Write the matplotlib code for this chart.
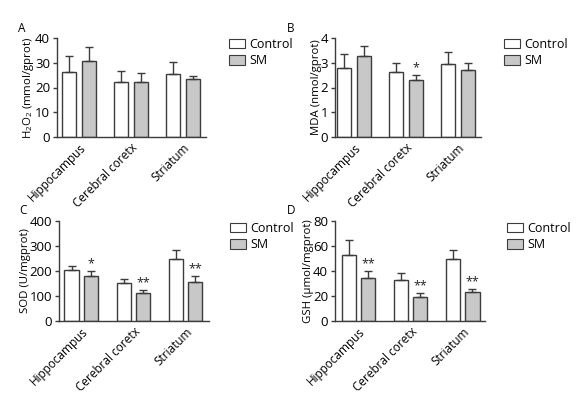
import matplotlib
matplotlib.use('Agg')
import matplotlib.pyplot as plt
from matplotlib.patches import Patch
import numpy as np

plt.rcParams['font.family'] = ['Open Sans', 'DejaVu Sans']
plt.rcParams['mathtext.default'] = 'regular'

regions = ['Hippocampus', 'Cerebral coretx', 'Striatum']
groups = ['Control', 'SM']

# panel A: H2O2
h2o2_ctrl = [26.3, 22.4, 25.5]
h2o2_ctrl_err = [6.3, 4.4, 5.0]
h2o2_sm = [30.8, 22.4, 23.5]
h2o2_sm_err = [5.7, 3.3, 1.3]
h2o2_stars = ['', '', '']

# panel B: MDA
mda_ctrl = [2.79, 2.64, 2.93]
mda_ctrl_err = [0.58, 0.33, 0.51]
mda_sm = [3.26, 2.30, 2.71]
mda_sm_err = [0.43, 0.21, 0.26]
mda_stars = ['', '*', '']

# panel C: SOD
sod_ctrl = [203, 154, 249]
sod_ctrl_err = [18, 16, 35]
sod_sm = [179, 114, 158]
sod_sm_err = [23, 12, 21]
sod_stars = ['*', '**', '**']

# panel D: GSH
gsh_ctrl = [53.2, 33.2, 50.0]
gsh_ctrl_err = [11.3, 5.6, 6.7]
gsh_sm = [34.2, 19.5, 23.3]
gsh_sm_err = [5.9, 2.7, 2.4]
gsh_stars = ['**', '**', '**']

panels = [
    ('A', 'H$_2$O$_2$ (mmol/gprot)', h2o2_ctrl, h2o2_ctrl_err, h2o2_sm, h2o2_sm_err, h2o2_stars, 40, 10),
    ('B', 'MDA (nmol/gprot)', mda_ctrl, mda_ctrl_err, mda_sm, mda_sm_err, mda_stars, 4, 1),
    ('C', 'SOD (U/mgprot)', sod_ctrl, sod_ctrl_err, sod_sm, sod_sm_err, sod_stars, 400, 100),
    ('D', 'GSH (μmol/mgprot)', gsh_ctrl, gsh_ctrl_err, gsh_sm, gsh_sm_err, gsh_stars, 80, 20),
]

# pixel boxes (left, right, top, bottom) and xlims
W, H = 586, 393
boxes = [(57, 206, 38, 137), (335, 481, 38, 137), (59, 209, 221, 321), (335, 485, 221, 321)]
xlims = [(-0.42, 2.44), (-0.37, 2.44), (-0.43, 2.45), (-0.45, 2.43)]
legend_pos = [(229, 38), (504, 38), (230, 222), (507, 222)]
letter_pos = [(18, 28), (287, 28), (19, 211), (287, 211)]

edge = '#3c3c3c'
sm_fill = '#c8c8c8'
fs = 8.5

fig = plt.figure(figsize=(W / 100, H / 100), dpi=100)
x = np.arange(len(regions))
off, bw = 0.19, 0.27

for i, (letter, ylab, c, ce, s, se, stars, ymax, step) in enumerate(panels):
    l, r, t, b = boxes[i]
    ax = fig.add_axes([l / W, 1 - b / H, (r - l) / W, (b - t) / H])
    ax.bar(x - off, c, bw, color='white', edgecolor=edge, linewidth=1.0,
           yerr=[np.zeros(3), ce], error_kw=dict(ecolor=edge, elinewidth=1.0, capsize=3, capthick=1.0))
    ax.bar(x + off, s, bw, color=sm_fill, edgecolor=edge, linewidth=1.0,
           yerr=[np.zeros(3), se], error_kw=dict(ecolor=edge, elinewidth=1.0, capsize=3, capthick=1.0))
    for j in range(3):
        if stars[j]:
            ax.text(x[j] + off, s[j] + se[j] + ymax * 0.005, stars[j], ha='center', va='bottom',
                    fontsize=9, color='#222222')
    ax.set_ylim(0, ymax)
    ax.set_xlim(*xlims[i])
    ax.set_yticks(np.arange(0, ymax + step / 2, step))
    ax.set_xticks(x)
    ax.set_xticklabels(regions, rotation=45, ha='right', rotation_mode='anchor', fontsize=fs)
    ax.tick_params(axis='x', length=0, pad=3)
    ax.tick_params(axis='y', length=3, width=1.0, color=edge, labelsize=fs + 1, pad=2)
    ax.set_ylabel(ylab, fontsize=fs - 0.3, labelpad=-1)
    for sp in ['top', 'right']:
        ax.spines[sp].set_visible(False)
    for sp in ['left', 'bottom']:
        ax.spines[sp].set_color(edge)
        ax.spines[sp].set_linewidth(1.0)
    handles = [Patch(facecolor='white', edgecolor=edge, linewidth=0.8),
               Patch(facecolor=sm_fill, edgecolor=edge, linewidth=0.8)]
    lx, ly = legend_pos[i]
    ax.legend(handles, groups, loc='upper left', bbox_to_anchor=(lx / W, 1 - ly / H),
              bbox_transform=fig.transFigure, frameon=False, fontsize=fs + 0.5,
              handlelength=1.3, handleheight=0.8, handletextpad=0.3,
              borderpad=0, borderaxespad=0, labelspacing=0.25)
    px, py = letter_pos[i]
    fig.text(px / W, 1 - py / H, letter, fontsize=fs, va='center', ha='left')

fig.savefig('out.png', dpi=100)
